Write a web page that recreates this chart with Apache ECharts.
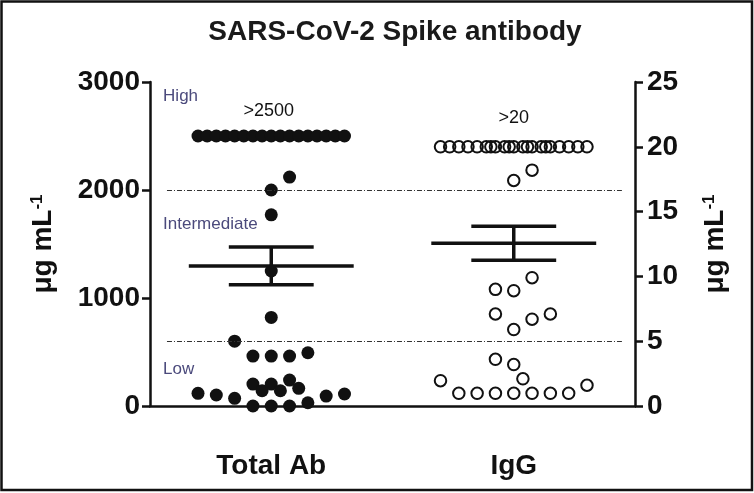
<!DOCTYPE html>
<html>
<head>
<meta charset="utf-8">
<script src="https://cdn.jsdelivr.net/npm/echarts@6/dist/echarts.min.js"></script>
<style>
  html, body { margin: 0; padding: 0; background: #fff; }
  #chart { width: 754px; height: 493px; }
</style>
</head>
<body>
<div id="chart"></div>
<script>
// ---------------- data ----------------
const categories = ['Total Ab', 'IgG'];

// Total Ab (left axis, µg mL-1) values and beeswarm column offsets (in dot widths)
const totalAbValues = [
  2500,2500,2500,2500,2500,2500,2500,2500,2500,2500,2500,2500,2500,2500,2500,2500,2500,
  2120, 2000, 1770, 1250, 820, 600,
  462, 462, 462, 493,
  117, 102, 71, 203, 141, 203, 141, 240, 164, 92, 111, 30,
  0, 0, 0
];
const totalAbOffsets = [
  -4,-3.5,-3,-2.5,-2,-1.5,-1,-0.5,0,0.5,1,1.5,2,2.5,3,3.5,4,
  1, 0, 0, 0, 0, -2,
  -1, 0, 1, 2,
  -4, -3, -2, -1, -0.5, 0, 0.5, 1, 1.5, 3, 4, 2,
  -1, 0, 1
];

// IgG (right axis, µg mL-1)
const iggValues = [
  20,20,20,20,20,20,20,20,20,20,20,20,20,20,20,20,20, 20,20,20,20,
  17.4, 18.2,
  9.9, 9.0, 8.9, 7.1, 6.7, 7.1, 5.9,
  3.6, 3.2, 2.1, 1.95,
  0.98, 0.98, 0.98, 0.98, 0.98, 0.98, 0.98,
  1.6
];
const iggOffsets = [
  -4,-3.5,-3,-2.5,-2,-1.5,-1,-0.5,0,0.5,1,1.5,2,2.5,3,3.5,4, -1.25,-0.25,0.75,1.75,
  0, 1,
  1, -1, 0, -1, 1, 2, 0,
  -1, 0, 0.5, -4,
  -3, -2, -1, 0, 1, 2, 3,
  4
];

// Mean ± SEM
const means = [1297, 12.55];
const sems  = [175, 1.31];

// Threshold lines (left axis units)
const thresholds = [2000, 600];

// Tick settings
const leftTicks  = { min: 0, max: 3000, interval: 1000 };
const rightTicks = { min: 0, max: 25, interval: 5 };

// Region labels: [text, x (value-axis units), y (left axis units)]
const regionLabels = [['High', 0.054, 2865], ['Intermediate', 0.054, 1685], ['Low', 0.054, 342]];
// Censoring labels: [text, x, y, yAxisIndex]
const censorLabels = [['>2500', 0.49, 2735, 0], ['>20', 1.5, 22.2, 1]];

// ---------------- chart ----------------
const FONT = "'Liberation Sans', Arial, Helvetica, sans-serif";
const SLOT = 0.0755; // one dot width in x-value units
const chart = echarts.init(document.getElementById('chart'), null, { renderer: 'canvas' });

const totalAbData = totalAbValues.map((v, i) => [0.5 + totalAbOffsets[i] * SLOT, v]);
const iggData = iggValues.map((v, i) => [1.5 + iggOffsets[i] * SLOT, v]);

function errRender(params, api) {
  const x = api.value(0), m = api.value(1), lo = api.value(2), hi = api.value(3);
  const pm = api.coord([x, m]), pl = api.coord([x, lo]), ph = api.coord([x, hi]);
  const unit = api.size([1, 0])[0];
  const mw = 0.34 * unit, cw = 0.175 * unit;
  const st = { stroke: '#111', lineWidth: 3.5 };
  return {
    type: 'group',
    children: [
      { type: 'line', shape: { x1: pm[0] - mw, y1: pm[1], x2: pm[0] + mw, y2: pm[1] }, style: st },
      { type: 'line', shape: { x1: ph[0] - cw, y1: ph[1], x2: ph[0] + cw, y2: ph[1] }, style: st },
      { type: 'line', shape: { x1: pl[0] - cw, y1: pl[1], x2: pl[0] + cw, y2: pl[1] }, style: st },
      { type: 'line', shape: { x1: ph[0], y1: ph[1], x2: pl[0], y2: pl[1] }, style: st }
    ]
  };
}

const yNameRich = {
  base: { fontSize: 28, fontWeight: 'bold', fontFamily: FONT, color: '#111' },
  sup: { fontSize: 17, fontWeight: 'bold', fontFamily: FONT, color: '#111', verticalAlign: 'top', padding: [0, 0, 12, 0] }
};

const axisLineStyle = { color: '#111', width: 2.5 };
const plain = v => String(v);

const option = {
  animation: false,
  backgroundColor: '#fff',
  title: {
    text: 'SARS-CoV-2 Spike antibody',
    left: 390, top: 13, textAlign: 'center',
    textStyle: { fontFamily: FONT, fontWeight: 'bold', fontSize: 28, color: '#1a1a1a' }
  },
  grid: { left: 150, right: 119, top: 82, bottom: 87, containLabel: false },
  xAxis: [
    {
      type: 'category', data: categories, boundaryGap: true,
      axisLine: { lineStyle: axisLineStyle },
      axisTick: { alignWithLabel: true, length: 7, lineStyle: { color: '#111', width: 2.5 } },
      axisLabel: { fontFamily: FONT, fontWeight: 'bold', fontSize: 28, color: '#111', margin: 46 },
      splitLine: { show: false }
    },
    { type: 'value', min: 0, max: 2, show: false }
  ],
  yAxis: [
    {
      type: 'value', position: 'left', min: leftTicks.min, max: leftTicks.max, interval: leftTicks.interval,
      axisLine: { show: true, lineStyle: axisLineStyle },
      axisTick: { show: true, length: 8, lineStyle: { color: '#111', width: 2.5 } },
      axisLabel: { fontFamily: FONT, fontWeight: 'bold', fontSize: 28, color: '#111', margin: 10, formatter: plain },
      splitLine: { show: false },
      name: '{base|μg mL}{sup|-1}', nameLocation: 'middle', nameGap: 92, nameRotate: 90,
      nameTextStyle: { rich: yNameRich }
    },
    {
      type: 'value', position: 'right', min: rightTicks.min, max: rightTicks.max, interval: rightTicks.interval,
      axisLine: { show: true, lineStyle: axisLineStyle },
      axisTick: { show: true, length: 8, lineStyle: { color: '#111', width: 2.5 } },
      axisLabel: { fontFamily: FONT, fontWeight: 'bold', fontSize: 28, color: '#111', margin: 12, formatter: plain },
      splitLine: { show: false },
      name: '{base|μg mL}{sup|-1}', nameLocation: 'middle', nameGap: 66, nameRotate: 90,
      nameTextStyle: { rich: yNameRich }
    }
  ],
  series: [
    {
      name: 'Total Ab', type: 'scatter', xAxisIndex: 1, yAxisIndex: 0,
      data: totalAbData, symbol: 'circle', symbolSize: 13,
      itemStyle: { color: '#111', opacity: 1 },
      z: 3,
      markLine: {
        silent: true, symbol: ['none', 'none'],
        label: { show: false },
        lineStyle: { color: '#333', width: 1.2, type: [5, 2, 1, 2] },
        data: thresholds.map(t => [{ coord: [0.07, t] }, { coord: [1.946, t] }])
      }
    },
    {
      name: 'IgG', type: 'scatter', xAxisIndex: 1, yAxisIndex: 1,
      data: iggData, symbol: 'circle', symbolSize: 11.5,
      itemStyle: { color: 'rgba(0,0,0,0)', borderColor: '#111', borderWidth: 2, opacity: 1 },
      z: 3
    },
    {
      type: 'custom', xAxisIndex: 1, yAxisIndex: 0, renderItem: errRender, z: 4,
      data: [[0.5, means[0], means[0] - sems[0], means[0] + sems[0]]]
    },
    {
      type: 'custom', xAxisIndex: 1, yAxisIndex: 1, renderItem: errRender, z: 4,
      data: [[1.5, means[1], means[1] - sems[1], means[1] + sems[1]]]
    }
  ]
};
chart.setOption(option);

// annotations positioned through the axes
const graphics = [];
regionLabels.forEach(([t, x, y]) => {
  const p = chart.convertToPixel({ xAxisIndex: 1, yAxisIndex: 0 }, [x, y]);
  graphics.push({ type: 'text', x: p[0], y: p[1], style: { text: t, fontFamily: FONT, fontSize: 17, fill: '#4b4a7c', verticalAlign: 'middle', align: 'left' } });
});
censorLabels.forEach(([t, x, y, yi]) => {
  const p = chart.convertToPixel({ xAxisIndex: 1, yAxisIndex: yi }, [x, y]);
  graphics.push({ type: 'text', x: p[0], y: p[1], style: { text: t, fontFamily: FONT, fontSize: 18, fill: '#111', verticalAlign: 'middle', align: 'center' } });
});
graphics.push({ type: 'rect', shape: { x: 1.5, y: 1.5, width: 750.5, height: 488.5 }, style: { fill: 'none', stroke: '#111', lineWidth: 2.5 }, z: 100 });
chart.setOption({ graphic: graphics });
</script>
</body>
</html>
